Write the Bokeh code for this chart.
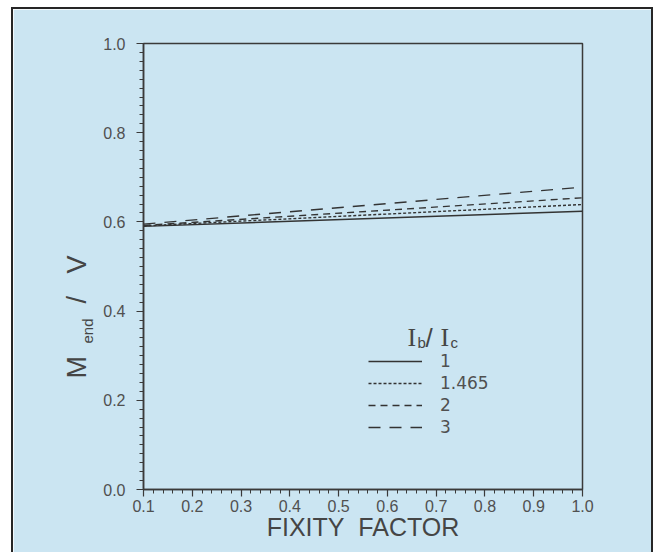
from bokeh.plotting import figure
from bokeh.models import (Label, Legend, LegendItem, Range1d, SingleIntervalTicker,
                          PrintfTickFormatter, Title)
from bokeh.embed import file_html
from bokeh.resources import INLINE

# ---- data ----
fixity = [0.1, 1.0]
ratio_names = ["1", "1.465", "2", "3"]
m_ratio_1 = [0.590, 0.624]
m_ratio_1465 = [0.591, 0.639]
m_ratio_2 = [0.592, 0.654]
m_ratio_3 = [0.595, 0.678]
series = [m_ratio_1, m_ratio_1465, m_ratio_2, m_ratio_3]
dashes = ["solid", "3 2", "7 5", "12 9"]

BG = "#cbe5f2"
INK = "#3a3a3a"
TXT = "#505050"
NB = "\u00a0"

OX, OY = 13, 9          # canvas origin on the page
W, H = 642, 550
FL, FR, FT, FB = 143, 582, 43, 489   # frame edges on the page


def fr(px, py):
    """page position -> frame-relative screen offsets"""
    return px - FL, FB - py


p = figure(width=W, height=H, output_backend="svg", toolbar_location=None,
           x_range=Range1d(0.1, 1.0), y_range=Range1d(0.0, 1.0),
           min_border_left=FL - OX, min_border_right=W - (FR - OX),
           min_border_top=FT - OY, min_border_bottom=H - (FB - OY))
p.styles = {"border": "2px solid #262626", "margin": "7px 0 0 11px"}
p.background_fill_color = BG
p.border_fill_color = BG
p.outline_line_color = INK
p.outline_line_width = 1.5
p.grid.visible = False

p.xaxis.ticker = SingleIntervalTicker(interval=0.1, num_minor_ticks=5)
p.yaxis.ticker = SingleIntervalTicker(interval=0.2, num_minor_ticks=10)
for ax in (p.xaxis[0], p.yaxis[0]):
    ax.formatter = PrintfTickFormatter(format="%.1f")
    ax.axis_line_color = INK
    ax.axis_line_width = 1.5
    ax.major_tick_line_color = INK
    ax.minor_tick_line_color = INK
    ax.major_tick_line_width = 1.2
    ax.minor_tick_line_width = 1.0
    ax.major_tick_in = 0
    ax.major_tick_out = 7
    ax.minor_tick_in = 0
    ax.minor_tick_out = 4
    ax.major_label_text_font = "Liberation Sans"
    ax.major_label_text_font_size = "16px"
    ax.major_label_text_color = TXT
p.yaxis.major_label_standoff = 11
p.xaxis.major_label_standoff = 3
p.xaxis.axis_label = "FIXITY" + NB + NB + "FACTOR"
p.xaxis.axis_label_text_font = "Liberation Sans"
p.xaxis.axis_label_text_font_size = "25px"
p.xaxis.axis_label_text_font_style = "normal"
p.xaxis.axis_label_text_color = "#454545"
p.xaxis.axis_label_standoff = -2

renderers = []
for ys, d in zip(series, dashes):
    r = p.line(fixity, ys, line_color="#333333", line_width=1.4, line_dash=d)
    renderers.append(r)

legend = Legend(items=[LegendItem(label=n, renderers=[r]) for n, r in zip(ratio_names, renderers)],
                location=(220, 47), padding=5, margin=0, spacing=2,
                glyph_width=54, glyph_height=20, label_height=20, label_standoff=18,
                label_text_font="DejaVu Sans", label_text_font_size="17px",
                label_text_color=TXT, background_fill_alpha=0, border_line_alpha=0)
p.add_layout(legend)

# y axis title M_end / V, as side-panel titles (not clipped by the frame)
t_sub = Title(text="end", align="left", vertical_align="bottom", offset=FB - 343,
              standoff=10, text_font="Liberation Sans", text_font_size="15px",
              text_font_style="normal", text_color="#454545")
t_main = Title(text="M" + NB * 7 + "/" + NB * 3 + "V", align="left", vertical_align="bottom",
               offset=FB - 378, standoff=-40, text_font="Liberation Sans",
               text_font_size="27px", text_font_style="normal", text_color="#454545")
p.add_layout(t_sub, "left")
p.add_layout(t_main, "left")


def lab(px, py, text, size, font="Liberation Sans", color="#454545"):
    x, y = fr(px, py)
    p.add_layout(Label(x=x, y=y, x_units="screen", y_units="screen", text=text,
                       text_font=font, text_font_size=size,
                       text_color=color, text_align="left", text_baseline="alphabetic"))


# legend title: I_b / I_c
lab(407, 337, "I", "26px", font="Liberation Serif")
lab(417, 342, "b", "15px")
lab(425, 337, "/", "26px")
lab(440, 337, "I", "26px", font="Liberation Serif")
lab(450, 342, "c", "15px")

open("out.html", "w").write(file_html(p, INLINE))
